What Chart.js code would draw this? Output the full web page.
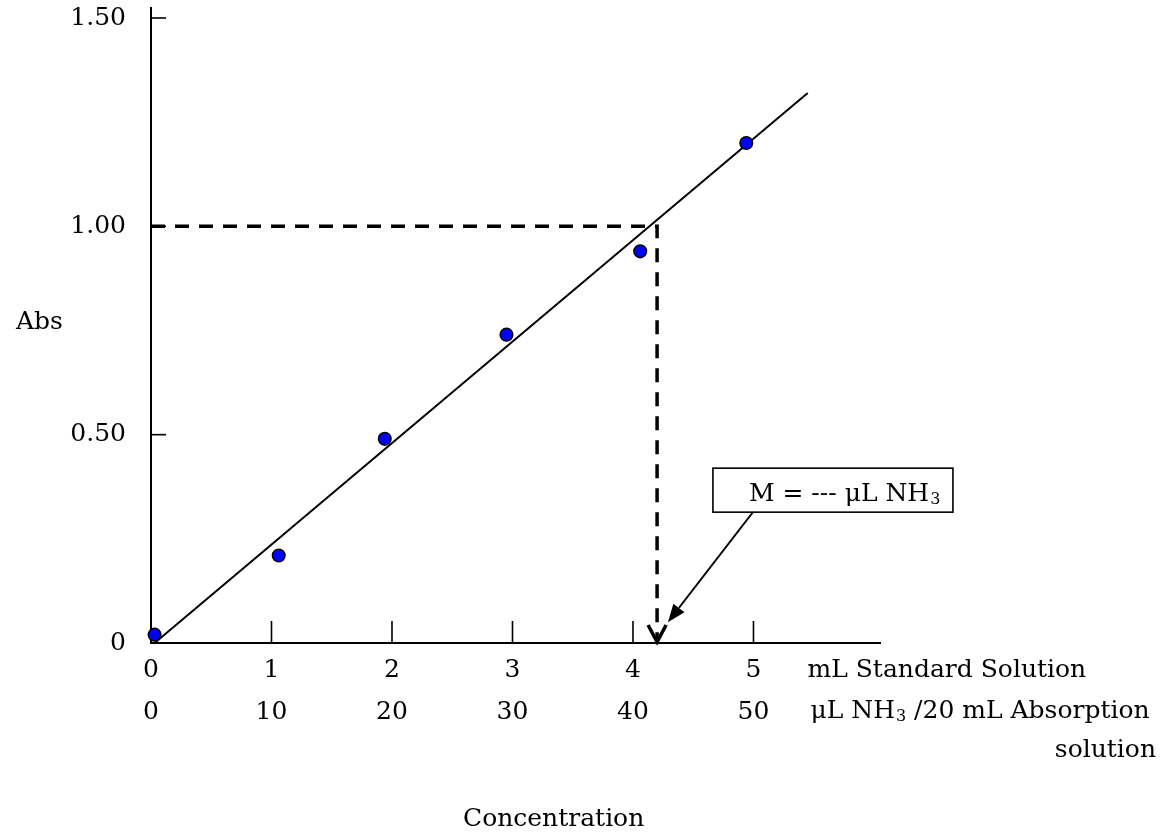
<!DOCTYPE html>
<html>
<head>
<meta charset="utf-8">
<title>Calibration curve</title>
<script src="https://cdn.jsdelivr.net/npm/chart.js@4.4.1/dist/chart.umd.min.js"></script>
<style>
  html, body { margin: 0; padding: 0; background: #fff; }
  #wrap { width: 1168px; height: 834px; position: relative; }
</style>
</head>
<body>
<div id="wrap"><canvas id="c" width="1168" height="834"></canvas></div>
<script>
// Calibration standards: volume of standard solution (mL) and measured absorbance
const standardVolumes = [0.03, 1.06, 1.94, 2.95, 4.06, 4.94];
const absorbances     = [0.02, 0.21, 0.49, 0.74, 0.94, 1.20];

// End points of the fitted calibration line
const fitVolumes = [0.03, 5.45];
const fitAbs     = [0.00, 1.32];

// Sample reading: absorbance projected down onto the volume axis
const sampleAbs    = 1.00;
const sampleVolume = 4.2;

// Axis ticks
const volumeTicks   = [0, 1, 2, 3, 4, 5];
const nh3Ticks      = [0, 10, 20, 30, 40, 50];
const absTicks      = [0, 0.5, 1.0, 1.5];
const absTickLabels = ['0', '0.50', '1.00', '1.50'];

const FONT = 'DejaVu Serif';
const FONT_SIZE = 25;
Chart.defaults.font.family = FONT;
Chart.defaults.color = '#000';

const points = standardVolumes.map((v, i) => ({ x: v, y: absorbances[i] }));
const fitLine = fitVolumes.map((v, i) => ({ x: v, y: fitAbs[i] }));
const readLine = [
  { x: 0, y: sampleAbs },
  { x: sampleVolume, y: sampleAbs },
  { x: sampleVolume, y: 0 }
];

function seg(ctx, x1, y1, x2, y2) {
  ctx.beginPath(); ctx.moveTo(x1, y1); ctx.lineTo(x2, y2); ctx.stroke();
}

// Inward tick marks, chevron, callout box and the text around the axes
const overlay = {
  id: 'overlay',
  afterDraw(chart) {
    const { ctx, chartArea: a, scales: { x, y } } = chart;
    ctx.save();
    ctx.strokeStyle = '#000';
    ctx.fillStyle = '#000';

    // tick marks pointing into the plot
    ctx.lineWidth = 1.6;
    volumeTicks.forEach(v => {
      if (v === 0) return;
      const px = x.getPixelForValue(v);
      seg(ctx, px, a.bottom, px, a.bottom - 22);
    });
    absTicks.forEach(v => {
      if (v === 0) return;
      const py = y.getPixelForValue(v);
      seg(ctx, a.left, py, a.left + 15, py);
    });

    // open arrowhead at the foot of the reading line
    const cx = x.getPixelForValue(sampleVolume);
    const cy = y.getPixelForValue(0);
    ctx.lineWidth = 3.5;
    ctx.lineCap = 'butt';
    ctx.lineJoin = 'miter';
    ctx.beginPath();
    ctx.moveTo(cx - 9, cy - 18);
    ctx.lineTo(cx, cy - 1);
    ctx.lineTo(cx + 9, cy - 18);
    ctx.stroke();

    // callout box with arrow to the read-off volume
    const tipX = x.getPixelForValue(4.29);
    const tipY = y.getPixelForValue(0.05);
    const boxL = tipX + 45, boxB = tipY - 110, boxW = 240, boxH = 44;
    ctx.lineWidth = 1.6;
    ctx.fillStyle = '#fff';
    ctx.fillRect(boxL, boxB - boxH, boxW, boxH);
    ctx.strokeRect(boxL, boxB - boxH, boxW, boxH);
    ctx.fillStyle = '#000';
    const tailX = boxL + 40, tailY = boxB;
    const ang = Math.atan2(tipY - tailY, tipX - tailX);
    const headLen = 18, headW = 7;
    const baseX = tipX - headLen * Math.cos(ang), baseY = tipY - headLen * Math.sin(ang);
    ctx.lineWidth = 1.8;
    seg(ctx, tailX, tailY, baseX, baseY);
    ctx.beginPath();
    ctx.moveTo(tipX, tipY);
    ctx.lineTo(baseX + headW * Math.sin(ang), baseY - headW * Math.cos(ang));
    ctx.lineTo(baseX - headW * Math.sin(ang), baseY + headW * Math.cos(ang));
    ctx.closePath();
    ctx.fill();

    const main = FONT_SIZE + 'px "' + FONT + '"';
    const sub = Math.round(FONT_SIZE * 0.62) + 'px "' + FONT + '"';
    ctx.textBaseline = 'middle';
    ctx.textAlign = 'left';

    // text with a subscript 3 after NH
    function nh3Text(pre, post, px, py) {
      ctx.font = main;
      ctx.fillText(pre, px, py);
      px += ctx.measureText(pre).width;
      ctx.font = sub;
      ctx.fillText('3', px + 1, py + 6);
      px += ctx.measureText('3').width + 1;
      ctx.font = main;
      ctx.fillText(post, px, py);
    }

    nh3Text('M = --- \u03bcL NH', '', boxL + 36, boxB - boxH / 2 + 4);

    // unit labels for the two tick rows
    const x5 = x.getPixelForValue(5);
    ctx.font = main;
    ctx.fillText('mL Standard Solution', x5 + 54, a.bottom + 27);
    nh3Text('\u03bcL NH', ' /20 mL Absorption', x5 + 57, a.bottom + 68);
    ctx.textAlign = 'right';
    ctx.fillText('solution', 1156, a.bottom + 107);

    // axis titles
    ctx.textAlign = 'left';
    ctx.fillText('Abs', 16, y.getPixelForValue(0.77));
    ctx.textBaseline = 'alphabetic';
    ctx.fillText('Concentration', 463, 826);

    ctx.restore();
  }
};

new Chart(document.getElementById('c'), {
  type: 'scatter',
  data: {
    datasets: [
      {
        label: 'Standards',
        data: points,
        pointRadius: 6.3,
        pointBackgroundColor: '#0000ff',
        pointBorderColor: '#000',
        pointBorderWidth: 1.5,
        showLine: false,
        clip: false
      },
      {
        label: 'Calibration line',
        data: fitLine,
        showLine: true,
        borderColor: '#000',
        borderWidth: 2,
        pointRadius: 0,
        clip: false
      },
      {
        label: 'Reading',
        data: readLine,
        showLine: true,
        borderColor: '#000',
        borderWidth: 3.5,
        borderDash: [14, 10],
        borderCapStyle: 'butt',
        pointRadius: 0,
        clip: false
      }
    ]
  },
  options: {
    responsive: false,
    animation: false,
    events: [],
    layout: { padding: { top: 8, right: 288, left: 0, bottom: 0 } },
    plugins: { legend: { display: false }, tooltip: { enabled: false } },
    scales: {
      x: {
        type: 'linear',
        min: 0,
        max: 6.05,
        afterBuildTicks(s) { s.ticks = volumeTicks.map(v => ({ value: v })); },
        afterFit(s) { s.height = 191; s.paddingLeft = 0; s.paddingRight = 0; },
        grid: { display: false, drawTicks: false },
        border: { display: true, color: '#000', width: 2 },
        ticks: {
          padding: 6,
          color: '#000',
          maxRotation: 0,
          autoSkip: false,
          font: { family: FONT, size: FONT_SIZE, lineHeight: 1.68 },
          callback: (v, i) => [String(volumeTicks[i]), String(nh3Ticks[i])]
        }
      },
      y: {
        type: 'linear',
        min: 0,
        max: 1.524,
        afterBuildTicks(s) { s.ticks = absTicks.map(v => ({ value: v })); },
        afterFit(s) { s.width = 151; s.paddingTop = 0; s.paddingBottom = 0; },
        grid: { display: false, drawTicks: false },
        border: { display: true, color: '#000', width: 2 },
        ticks: {
          padding: 25,
          color: '#000',
          font: { family: FONT, size: FONT_SIZE },
          callback: (v, i) => absTickLabels[i]
        }
      }
    }
  },
  plugins: [overlay]
});
</script>
</body>
</html>
